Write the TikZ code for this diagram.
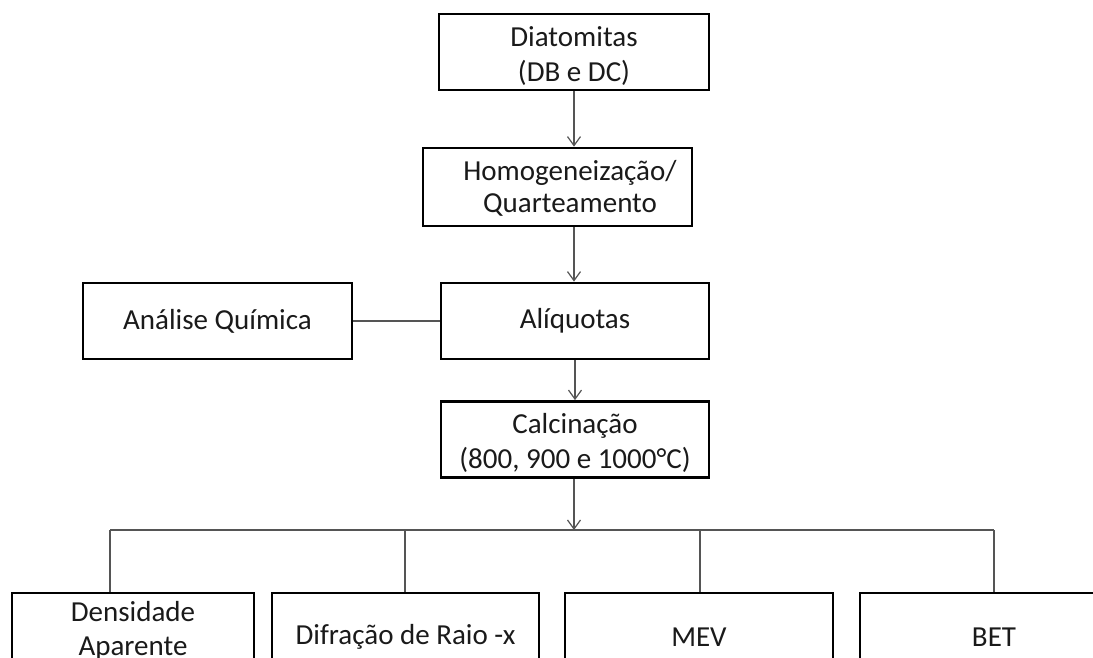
\documentclass[tikz,border=0pt]{standalone}
\usepackage{fontspec}
\setmainfont{Carlito}
\usetikzlibrary{arrows.meta}
\definecolor{txt}{HTML}{1A1A1A}
\definecolor{conn}{HTML}{555555}
\tikzset{
  box/.style={draw=black, line width=2.8pt, rectangle, align=center, text=txt,
    font=\fontsize{29}{35}\selectfont, inner sep=0pt},
  lbl/.style={text=txt, font=\fontsize{29}{35}\selectfont, align=center, inner sep=0pt},
  conline/.style={draw=conn, line width=1.2pt},
  arr/.style={conline, -{Straight Barb[length=9pt,width=13pt,line width=1.2pt]}}
}
\begin{document}
\begin{tikzpicture}[x=1pt,y=-1pt]
\useasboundingbox (0,0) rectangle (1093,657);
\clip (0,0) rectangle (1093,657);
\fill[white] (0,0) rectangle (1093,657);
% main column
\node[box, minimum width=270pt, minimum height=76pt] (diat) at (574,52) {};
\node[lbl] (diatt) at (574,56) {Diatomitas\\(DB e DC)};
\node[box, minimum width=269pt, minimum height=78pt] (homog) at (557.5,187) {};
\node[lbl, font=\fontsize{29}{32}\selectfont] (homogt) at (570,188) {Homogeneização/\\Quarteamento};
\node[box, minimum width=268pt, minimum height=76pt] (aliq) at (575,321) {Alíquotas};
\node[box, minimum width=269pt, minimum height=76pt] (quim) at (217.5,321) {Análise Química};
\node[box, minimum width=268pt, minimum height=76pt] (calc) at (575,439.5) {};
\node[lbl] (calct) at (575,443) {Calcinação\\(800, 900 e 1000°C)};
% bottom row
\node[box, minimum width=242pt, minimum height=88pt] (dens) at (133,637) {};
\node[lbl, font=\fontsize{29}{34}\selectfont] (denst) at (133,631) {Densidade\\Aparente};
\node[box, minimum width=267pt, minimum height=88pt] (difr) at (405.5,637) {Difração de Raio -x};
\node[box, minimum width=268pt, minimum height=88pt] (mev) at (699,637) {MEV};
\node[box, minimum width=268pt, minimum height=88pt] (bet) at (994,637) {BET};
% bus coordinates
\coordinate (busc) at (574,530);
\coordinate (b1) at (110,530);
\coordinate (b2) at (405,530);
\coordinate (b3) at (700,530);
\coordinate (b4) at (994,530);
% connectors
\draw[arr] (diat.south) -- (diat.south |- homog.north);
\draw[arr] (diat.south |- homog.south) -- (diat.south |- aliq.north);
\draw[conline] (quim.east) -- (aliq.west);
\draw[arr] (aliq.south) -- (calc.north);
\draw[arr] (calc.south -| busc) -- (busc);
\draw[conline] (b1) -- (b4);
\draw[conline] (b1) -- (b1 |- dens.north);
\draw[conline] (b2) -- (b2 |- difr.north);
\draw[conline] (b3) -- (b3 |- mev.north);
\draw[conline] (b4) -- (b4 |- bet.north);
\end{tikzpicture}
\end{document}
